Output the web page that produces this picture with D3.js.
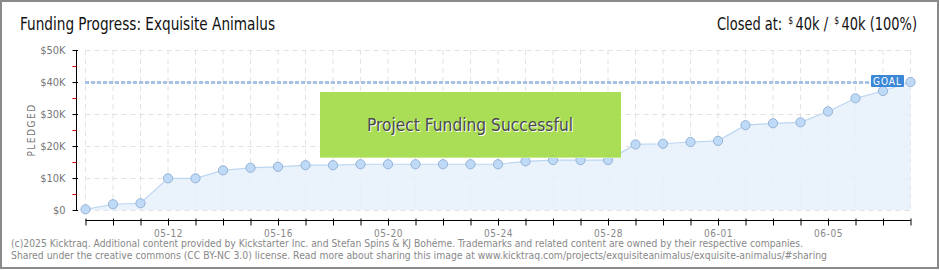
<!DOCTYPE html>
<html><head><meta charset="utf-8">
<script src="https://cdn.jsdelivr.net/npm/d3@7"></script>
<style>html,body{margin:0;padding:0;background:#fff;}svg{display:block;}</style>
</head><body>
<svg id="c" width="940" height="270"></svg>
<script>
const dates = ["05-09","05-10","05-11","05-12","05-13","05-14","05-15","05-16","05-17","05-18","05-19","05-20","05-21","05-22","05-23","05-24","05-25","05-26","05-27","05-28","05-29","05-30","05-31","06-01","06-02","06-03","06-04","06-05","06-06","06-07","06-08"];
const pledged = [200,1800,2100,9900,9900,12400,13200,13500,14000,14000,14300,14300,14300,14300,14300,14300,15200,15600,15600,15600,20500,20700,21250,21600,26500,27100,27400,30800,34900,37200,40000];
const yTicks = [0,10000,20000,30000,40000,50000];
const yMinorTicks = [5000,15000,25000,35000,45000];
const xLabelDates = ["05-12","05-16","05-20","05-24","05-28","06-01","06-05"];
const goal = 40000;
const title = "Funding Progress: Exquisite Animalus";
const closedParts = ["Closed at:", "$", "40k /", "$", "40k (100%)"];
const footer1 = "(c)2025 Kicktraq. Additional content provided by Kickstarter Inc. and Stefan Spins & KJ Bohéme. Trademarks and related content are owned by their respective companies.";
const footer2 = "Shared under the creative commons (CC BY-NC 3.0) license. Read more about sharing this image at www.kicktraq.com/projects/exquisiteanimalus/exquisite-animalus/#sharing";

const svg = d3.select("#c");
const font = "'DejaVu Sans Condensed','DejaVu Sans',sans-serif";

// border
svg.append("rect").attr("x",1).attr("y",1).attr("width",937).attr("height",267)
  .attr("fill","#fff").attr("stroke","#8a8a8a").attr("stroke-width",2);

const x = d3.scalePoint().domain(dates).range([85.5, 910.5]);
const y = d3.scaleLinear().domain([0,50000]).range([210,50]);

// grid
const g = svg.append("g");
g.selectAll("line.vg").data(dates).join("line")
  .attr("x1",d=>x(d)).attr("x2",d=>x(d)).attr("y1",50).attr("y2",210)
  .attr("stroke","#e2e2e2").attr("stroke-dasharray","5,4");
g.selectAll("line.hg").data(yTicks).join("line")
  .attr("x1",85.5).attr("x2",910.5).attr("y1",d=>y(d)+0.5).attr("y2",d=>y(d)+0.5)
  .attr("stroke","#e2e2e2").attr("stroke-dasharray","5,4");

// area
const pts = dates.map((d,i)=>({d, v:pledged[i]}));
g.append("path").datum(pts)
  .attr("d", d3.area().x(p=>x(p.d)).y0(y(0)).y1(p=>y(p.v)))
  .attr("fill","#e6f0fb").attr("opacity",0.85);
g.append("path").datum(pts)
  .attr("d", d3.line().x(p=>x(p.d)).y(p=>y(p.v)))
  .attr("fill","none").attr("stroke","#bcd6f2").attr("stroke-width",1.2);

// goal line
g.append("line").attr("x1",85).attr("x2",871).attr("y1",y(goal)+0.5).attr("y2",y(goal)+0.5)
  .attr("stroke","#a6c2e6").attr("stroke-width",3).attr("stroke-dasharray","4,2");

// success box
const bx = svg.append("g");
bx.append("rect").attr("x",320).attr("y",92).attr("width",301).attr("height",66)
  .attr("fill","#a2da45").attr("opacity",0.9);
bx.append("line").attr("x1",320).attr("x2",621).attr("y1",157.5).attr("y2",157.5)
  .attr("stroke","#c8ea90").attr("stroke-width",1);
bx.append("text").attr("x",471).attr("y",132).attr("text-anchor","middle")
  .attr("font-family",font).attr("font-size",18).attr("fill","#fff")
  .attr("textLength",206).attr("lengthAdjust","spacingAndGlyphs")
  .text("Project Funding Successful");
bx.append("text").attr("x",470).attr("y",131).attr("text-anchor","middle")
  .attr("font-family",font).attr("font-size",18).attr("fill","#4a4a4a")
  .attr("textLength",206).attr("lengthAdjust","spacingAndGlyphs")
  .text("Project Funding Successful");

// points
g.selectAll("circle").data(pts).join("circle")
  .attr("cx",p=>x(p.d)).attr("cy",p=>y(p.v)).attr("r",4.6)
  .attr("fill","#bfdaf6").attr("stroke","#95b3d6").attr("stroke-width",1);

// GOAL label
const gl = svg.append("g");
gl.append("rect").attr("x",871).attr("y",75).attr("width",33).attr("height",12)
  .attr("fill","#3b87d8").attr("rx",1);
gl.append("text").attr("x",887.5).attr("y",85).attr("text-anchor","middle")
  .attr("font-family",font).attr("font-size",10).attr("fill","#fff")
  .attr("letter-spacing",1).text("GOAL");

// y axis
const yAxis = d3.axisLeft(y).tickValues(yTicks).tickSize(4).tickPadding(7)
  .tickFormat(d=>"$"+(d/1000)+(d===0?"":"K"));
const ya = svg.append("g").attr("transform","translate(76.5,0)").call(yAxis);
ya.select(".domain").attr("stroke","#000").attr("d","M0,50V210");
ya.selectAll(".tick line").attr("stroke","#000").attr("x2",-4).attr("x1",1.5);
ya.selectAll("text").attr("font-family",font).attr("font-size",11).attr("fill","#777");
ya.selectAll(".minor").data(yMinorTicks).join("line").attr("class","minor")
  .attr("x1",-4).attr("x2",0).attr("y1",d=>y(d)+0.5).attr("y2",d=>y(d)+0.5)
  .attr("stroke","#e00000");
svg.append("text").attr("transform","translate(35,130) rotate(-90)")
  .attr("text-anchor","middle").attr("font-family",font).attr("font-size",10)
  .attr("letter-spacing",1.5).attr("fill","#777").text("PLEDGED");

// x axis
const xAxis = d3.axisBottom(x).tickSize(5).tickPadding(4)
  .tickFormat(d=>xLabelDates.includes(d)?d:"");
const xa = svg.append("g").attr("transform","translate(0,220.5)").call(xAxis);
xa.select(".domain").attr("stroke","#000").attr("d","M85.5,0H910.5");
xa.selectAll(".tick line").attr("stroke","#000").attr("y1",-2);
xa.selectAll("text").attr("font-family",font).attr("font-size",10).attr("fill","#888")
  .attr("letter-spacing",0.6);

// titles
svg.append("text").attr("x",20).attr("y",30).attr("font-family",font).attr("font-size",17)
  .attr("fill","#111").attr("textLength",255).attr("lengthAdjust","spacingAndGlyphs").text(title);

// right title: measured widths, horizontally squeezed (via transform) to ~200px like the reference
const rt = svg.selectAll("text.rt").data(closedParts).join("text").attr("class","rt")
  .attr("font-family",font).attr("font-size",(d,i)=>(i===1||i===3)?10:17)
  .attr("fill","#111").attr("x",0).attr("y",0).text(d=>d);
const nat = rt.nodes().map(n=>n.getComputedTextLength());
const gaps = [6,2.5,6,2.5,0];
const k = (200 - d3.sum(gaps))/d3.sum(nat);
let cx = 917 - 200;
rt.each(function(d,i){
  d3.select(this).attr("transform",`translate(${cx},${(i===1||i===3)?24:30}) scale(${k},1)`);
  cx += nat[i]*k + gaps[i];
});

// footer
svg.append("text").attr("x",11).attr("y",247).attr("font-family","'DejaVu Sans',sans-serif")
  .attr("font-size",10).attr("fill","#888").attr("textLength",792).attr("lengthAdjust","spacingAndGlyphs").text(footer1);
svg.append("text").attr("x",11).attr("y",259).attr("font-family","'DejaVu Sans',sans-serif")
  .attr("font-size",10).attr("fill","#888").attr("textLength",816).attr("lengthAdjust","spacingAndGlyphs").text(footer2);
</script>
</body></html>
